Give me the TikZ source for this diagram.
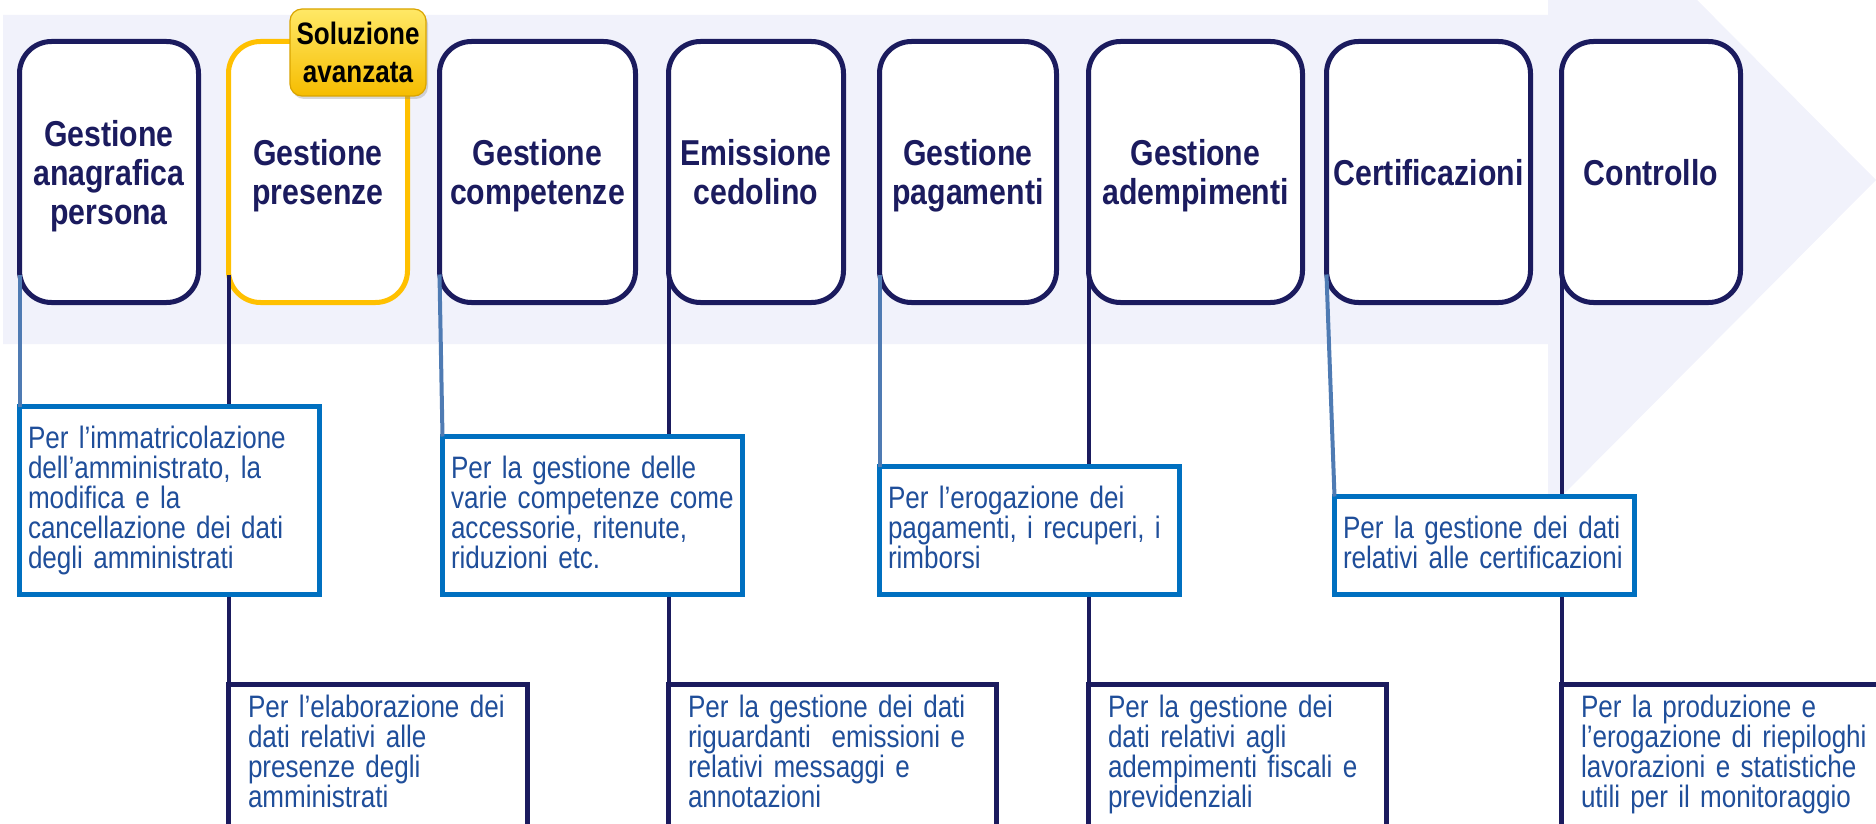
\documentclass[tikz,border=0pt]{standalone}
\usepackage{fontspec}
\setmainfont{Liberation Sans}[FakeStretch=0.84]
\usetikzlibrary{positioning,shadows}

\definecolor{navy}{HTML}{1B1B5E}
\definecolor{boxblue}{HTML}{0070C0}
\definecolor{textblue}{HTML}{1F4E9A}
\definecolor{linkblue}{HTML}{4F7BB3}
\definecolor{band}{HTML}{F1F2FB}
\definecolor{gold}{HTML}{FFC000}
\definecolor{goldtop}{HTML}{FFE866}
\definecolor{goldbot}{HTML}{F6BD00}
\definecolor{goldline}{HTML}{D9A400}

\begin{document}
\begin{tikzpicture}[x=0.5pt,y=0.5pt,thin]
\tikzstyle{phase}=[draw=navy,fill=white,line width=2.5pt,rounded corners=16pt,outer sep=0pt,minimum height=130.5pt,align=center,text depth=0pt,text=navy,font=\bfseries\fontsize{18pt}{19.5pt}\selectfont]
\tikzstyle{infoblue}=[draw=boxblue,fill=white,line width=2.5pt,outer sep=0pt,text=textblue,align=left,text width=141.5pt,inner xsep=4.25pt,inner ysep=8.75pt,text height=12pt,font=\fontsize{15.5pt}{15pt}\selectfont,execute at end node=\strut]
\tikzstyle{infonavy}=[draw=navy,fill=white,line width=2.5pt,outer sep=0pt,text=textblue,align=left,inner xsep=9.75pt,inner ysep=4.25pt,text height=12pt,text depth=70pt,font=\fontsize{15.5pt}{15pt}\selectfont]
\tikzstyle{badge}=[draw=goldline,line width=0.6pt,top color=goldtop,bottom color=goldbot,rounded corners=6pt,minimum width=68pt,minimum height=43.5pt,inner sep=1pt,align=center,font=\bfseries\fontsize{15.5pt}{19pt}\selectfont,drop shadow={opacity=0.3,shadow xshift=1pt,shadow yshift=-1.5pt}]
\tikzstyle{bluelink}=[draw=linkblue,line width=2pt]
\tikzstyle{navylink}=[draw=navy,line width=2pt]

\useasboundingbox (0,0) rectangle (1876,-824);
\clip (0,0) rectangle (1876,-824);

% big arrow behind the phases
\fill[band] (3,-15) -- (1548,-15) -- (1548,150) -- (1876,-180) -- (1548,-510) -- (1548,-344) -- (3,-344) -- cycle;

\node[phase]        (A) at (19.5,-41.5) [anchor=north west,minimum width=89.5pt] {Gestione\\anagrafica\\persona};
\node[phase]        (B) [right=15pt of A,minimum width=89.5pt,draw=gold] {Gestione\\presenze};
\node[phase]        (C) [right=16pt of B,minimum width=98pt] {Gestione\\competenze};
\node[phase]        (D) [right=16.5pt of C,minimum width=87.5pt] {Emissione\\cedolino};
\node[phase]        (E) [right=18pt of D,minimum width=88.5pt] {Gestione\\pagamenti};
\node[phase]        (F) [right=16pt of E,minimum width=107pt] {Gestione\\adempimenti};
\node[phase]        (G) [right=12pt of F,minimum width=102pt] {Certificazioni};
\node[phase]        (H) [right=15.5pt of G,minimum width=89.5pt] {Controllo};
\node[badge]        (S) at ([xshift=-24.75pt,yshift=-5.5pt]B.north east) {Soluzione\\avanzata};

\coordinate (navyrow) at (0,-684.5);
\coordinate (bluerow) at (0,-594.5);

% lower row
\node[infonavy]     (dB) at (B.south west |- navyrow) [anchor=north west,text width=130pt] {Per l’elaborazione dei\\dati relativi alle\\presenze degli\\amministrati};
\node[infonavy]     (dD) at (D.south west |- navyrow) [anchor=north west,text width=144.5pt] {Per la gestione dei dati\\riguardanti\ \ emissioni e\\relativi messaggi e\\annotazioni};
\node[infonavy]     (dF) at (F.south west |- navyrow) [anchor=north west,text width=129.5pt] {Per la gestione dei\\dati relativi agli\\adempimenti fiscali e\\previdenziali};
\node[infonavy]     (dH) at (H.south west |- navyrow) [anchor=north west,text width=144.5pt] {Per la produzione e\\l’erogazione di riepiloghi\\lavorazioni e statistiche\\utili per il monitoraggio};

\path
([yshift=14pt]B.south west) edge[navylink] (dB.north west)
([yshift=14pt]D.south west) edge[navylink] (dD.north west)
([yshift=14pt]F.south west) edge[navylink] (dF.north west)
([yshift=14pt]H.south west) edge[navylink] (dH.north west)
;

% upper row
\node[infoblue]     (dA) at (A.south west |- bluerow) [anchor=south west] {Per l’immatricolazione\\dell’amministrato, la\\modifica e la\\cancellazione dei dati\\degli amministrati};
\node[infoblue]     (dC) at ([xshift=1.5pt]C.south west |- bluerow) [anchor=south west] {Per la gestione delle\\varie competenze come\\accessorie, ritenute,\\riduzioni etc.};
\node[infoblue]     (dE) at (E.south west |- bluerow) [anchor=south west] {Per l’erogazione dei\\pagamenti, i recuperi, i\\rimborsi};
\node[infoblue]     (dG) at ([xshift=4pt]G.south west |- bluerow) [anchor=south west] {Per la gestione dei dati\\relativi alle certificazioni};

\path
([yshift=14pt]A.south west) edge[bluelink] (dA.north west)
([yshift=14pt]C.south west) edge[bluelink] (dC.north west)
([yshift=14pt]E.south west) edge[bluelink] (dE.north west)
([yshift=14pt]G.south west) edge[bluelink] (dG.north west)
;
\end{tikzpicture}
\end{document}
